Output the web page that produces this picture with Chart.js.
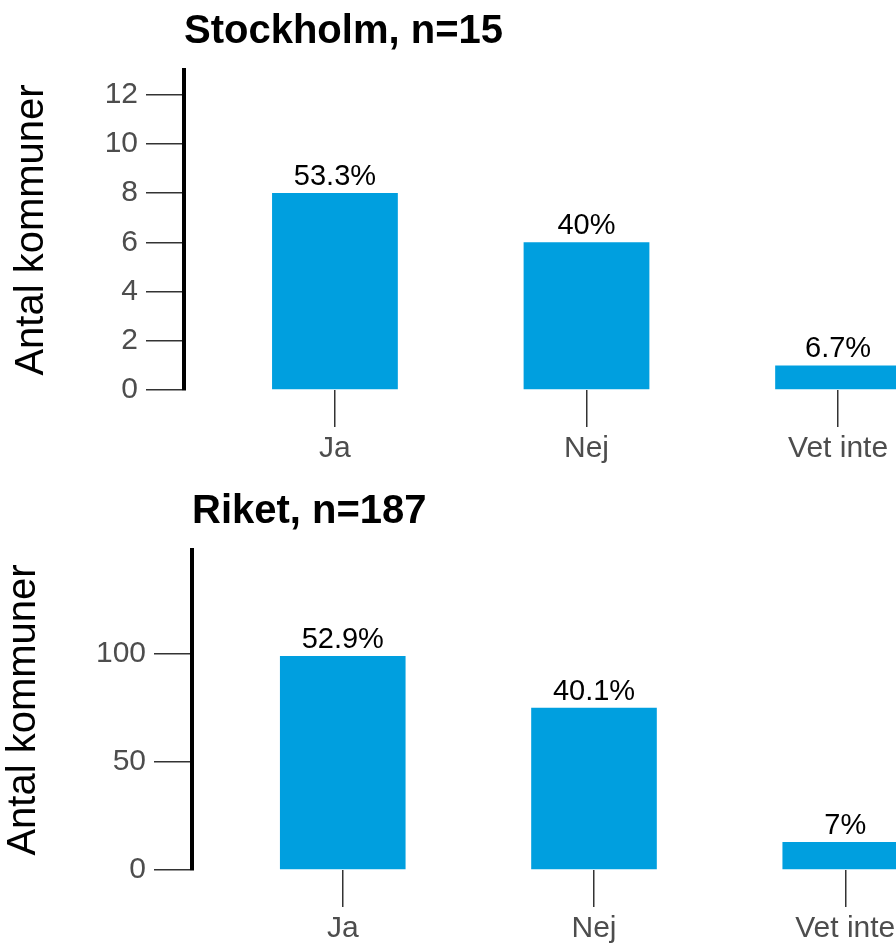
<!DOCTYPE html>
<html>
<head>
<meta charset="utf-8">
<script src="https://cdn.jsdelivr.net/npm/chart.js@4/dist/chart.umd.min.js"></script>
<style>
  html, body { margin: 0; padding: 0; background: #fff; width: 896px; height: 946px; overflow: hidden; }
  .panel { width: 1000px; height: 473px; }
  canvas { display: block; }
</style>
</head>
<body>
<div class="panel"><canvas id="chart-stockholm" width="1000" height="473"></canvas></div>
<div class="panel"><canvas id="chart-riket" width="1000" height="473"></canvas></div>
<script>
const categories = ["Ja", "Nej", "Vet inte"];
const stockholmCounts = [8, 6, 1];
const riketCounts = [99, 75, 13];
const stockholmTicks = [0, 2, 4, 6, 8, 10, 12];
const riketTicks = [0, 50, 100];

const FONT = "'Liberation Sans', Arial, sans-serif";
const BAR_COLOR = "#009fdf";
const TICK_GREY = "#4d4d4d";

Chart.defaults.font.family = FONT;

// percentage above each bar, computed from the counts
const shareLabels = {
  id: "shareLabels",
  afterDatasetsDraw(chart) {
    const counts = chart.data.datasets[0].data.map((d) => d.y);
    const total = counts.reduce((a, b) => a + b, 0);
    const ctx = chart.ctx;
    ctx.save();
    ctx.font = "29px " + FONT;
    ctx.fillStyle = "#000";
    ctx.textAlign = "center";
    ctx.textBaseline = "alphabetic";
    chart.getDatasetMeta(0).data.forEach((bar, i) => {
      const pct = +((counts[i] / total) * 100).toFixed(1);
      ctx.fillText(pct + "%", bar.x, bar.y - 8);
    });
    ctx.restore();
  },
};

function makeChart(id, place, counts, yTicks, yMax, opts) {
  const total = counts.reduce((a, b) => a + b, 0);
  return new Chart(document.getElementById(id), {
    type: "bar",
    data: {
      datasets: [
        {
          data: counts.map((c, i) => ({ x: i, y: c })),
          backgroundColor: BAR_COLOR,
          categoryPercentage: 1,
          barPercentage: 0.5,
        },
      ],
    },
    plugins: [shareLabels],
    options: {
      responsive: false,
      animation: false,
      layout: { padding: { left: 0, right: opts.padRight, top: 0, bottom: opts.padBottom } },
      plugins: {
        legend: { display: false },
        tooltip: { enabled: false },
        title: {
          display: true,
          text: place + ", n=" + total,
          align: "start",
          fullSize: false,
          color: "#000",
          font: { size: 40, weight: "bold", lineHeight: 1.2 },
          padding: { top: opts.titleTop, bottom: opts.titleBottom },
        },
      },
      scales: {
        x: {
          type: "linear",
          min: -0.6,
          max: 2.6,
          bounds: "data",
          offset: false,
          afterBuildTicks: (scale) => {
            scale.ticks = categories.map((_, i) => ({ value: i }));
          },
          afterFit: (scale) => {
            scale.height = 76;
          },
          ticks: {
            callback: (v) => categories[v],
            color: TICK_GREY,
            font: { size: 30 },
            padding: 4,
            maxRotation: 0,
            autoSkip: false,
          },
          grid: {
            offset: false,
            drawOnChartArea: false,
            tickLength: 37,
            color: "#333",
            lineWidth: 1.5,
          },
          border: { display: false },
        },
        y: {
          min: 0,
          max: yMax,
          afterBuildTicks: (scale) => {
            scale.ticks = yTicks.map((v) => ({ value: v }));
          },
          afterFit: (scale) => {
            scale.width = opts.axisX;
          },
          ticks: {
            color: TICK_GREY,
            font: { size: 30 },
            padding: 8,
          },
          grid: {
            drawOnChartArea: false,
            tickLength: 38,
            color: "#333",
            lineWidth: 1.5,
          },
          border: { display: true, color: "#000", width: 4 },
          title: {
            display: true,
            text: "Antal kommuner",
            color: "#000",
            font: { size: 40, lineHeight: 1 },
            padding: { top: opts.yTitleTop, bottom: 0 },
          },
        },
      },
    },
  });
}

makeChart("chart-stockholm", "Stockholm", stockholmCounts, stockholmTicks, 13, {
  axisX: 184, padRight: 11, padBottom: 7, titleTop: 8, titleBottom: 14, yTitleTop: 12,
});
makeChart("chart-riket", "Riket", riketCounts, riketTicks, 148, {
  axisX: 192, padRight: 4, padBottom: 0, titleTop: 15, titleBottom: 14, yTitleTop: 4,
});
</script>
</body>
</html>
